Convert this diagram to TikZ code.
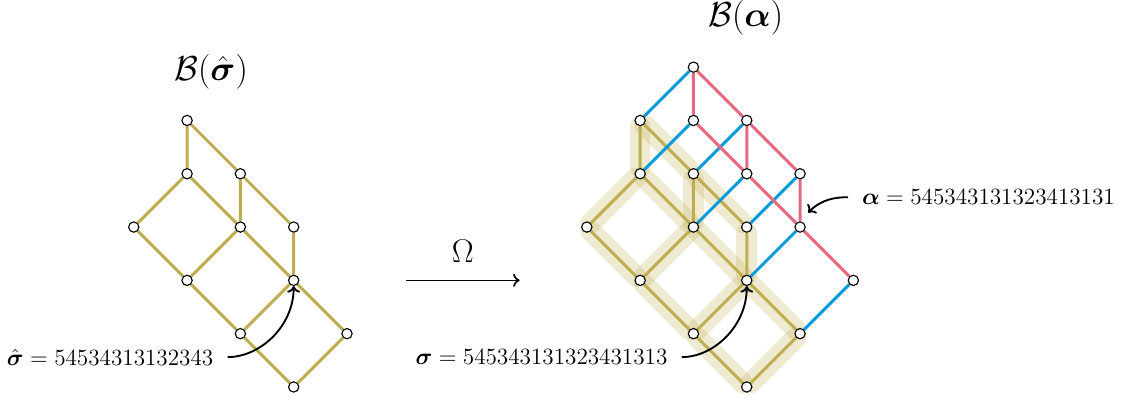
\RequirePackage{fix-cm}
\documentclass[tikz,border=0pt]{standalone}
\usepackage{amsmath}
\usepackage{tikz}
\usetikzlibrary{arrows.meta,positioning,calc,backgrounds}
\definecolor{BruhatOlive}{HTML}{BFAE50}
\definecolor{BruhatBlue}{HTML}{0A9BDB}
\definecolor{BruhatRed}{HTML}{E8687F}

\begin{document}
\begin{tikzpicture}[
  vtx/.style={circle,draw,fill=white,line width=0.6pt,inner sep=0pt,minimum size=5.5pt},
  oedge/.style={BruhatOlive,line width=1.6pt},
  bedge/.style={BruhatBlue,line width=1.6pt},
  redge/.style={BruhatRed,line width=1.6pt},
  band/.style={BruhatOlive,opacity=0.25,line width=11pt,line cap=round},
  arrow/.style={-{To[length=3.5pt,width=7pt]},line width=0.9pt},
  word/.style={font=\fontsize{12.4}{14}\selectfont},
  ttl/.style={font=\fontsize{18.5}{22}\selectfont,inner sep=1pt}
]
  \useasboundingbox (-11.01,-0.244) rectangle (10.04,7.26);

  % left lattice
  \node[vtx] (l15) at (-7.5,5) {};
  \node[vtx] (l14) at (-7.5,4) {};
  \node[vtx] (l24) at (-6.5,4) {};
  \node[vtx] (l03) at (-8.5,3) {};
  \node[vtx] (l23) at (-6.5,3) {};
  \node[vtx] (l33) at (-5.5,3) {};
  \node[vtx] (l12) at (-7.5,2) {};
  \node[vtx] (l32) at (-5.5,2) {};
  \node[vtx] (l21) at (-6.5,1) {};
  \node[vtx] (l41) at (-4.5,1) {};
  \node[vtx] (l30) at (-5.5,0) {};

  % right lattice
  \node[vtx] (r26) at (2,6) {};
  \node[vtx] (r15) at (1,5) {};
  \node[vtx] (r25) at (2,5) {};
  \node[vtx] (r35) at (3,5) {};
  \node[vtx] (r14) at (1,4) {};
  \node[vtx] (r24) at (2,4) {};
  \node[vtx] (r34) at (3,4) {};
  \node[vtx] (r44) at (4,4) {};
  \node[vtx] (r03) at (0,3) {};
  \node[vtx] (r23) at (2,3) {};
  \node[vtx] (r33) at (3,3) {};
  \node[vtx] (r43) at (4,3) {};
  \node[vtx] (r12) at (1,2) {};
  \node[vtx] (r32) at (3,2) {};
  \node[vtx] (r52) at (5,2) {};
  \node[vtx] (r21) at (2,1) {};
  \node[vtx] (r41) at (4,1) {};
  \node[vtx] (r30) at (3,0) {};

  \begin{scope}[on background layer]
    % highlighted copy of B(sigma)
    \draw[band] (r15) -- (r14);
    \draw[band] (r15) -- (r24);
    \draw[band] (r14) -- (r03);
    \draw[band] (r14) -- (r23);
    \draw[band] (r24) -- (r23);
    \draw[band] (r24) -- (r33);
    \draw[band] (r03) -- (r12);
    \draw[band] (r23) -- (r12);
    \draw[band] (r23) -- (r32);
    \draw[band] (r33) -- (r32);
    \draw[band] (r12) -- (r21);
    \draw[band] (r32) -- (r21);
    \draw[band] (r32) -- (r41);
    \draw[band] (r21) -- (r30);
    \draw[band] (r41) -- (r30);

    \draw[oedge] (l15) -- (l14) (l15) -- (l24) (l14) -- (l03) (l14) -- (l23)
      (l24) -- (l23) (l24) -- (l33) (l03) -- (l12) (l23) -- (l12) (l23) -- (l32)
      (l33) -- (l32) (l12) -- (l21) (l32) -- (l21) (l32) -- (l41)
      (l21) -- (l30) (l41) -- (l30);

    \draw[oedge] (r15) -- (r14) (r15) -- (r24) (r14) -- (r03) (r14) -- (r23)
      (r24) -- (r23) (r24) -- (r33) (r03) -- (r12) (r23) -- (r12) (r23) -- (r32)
      (r33) -- (r32) (r12) -- (r21) (r32) -- (r21) (r32) -- (r41)
      (r21) -- (r30) (r41) -- (r30);

    \draw[bedge] (r26) -- (r15) (r25) -- (r14) (r35) -- (r24) (r34) -- (r23)
      (r44) -- (r33) (r43) -- (r32) (r52) -- (r41);

    \draw[redge] (r26) -- (r25) (r26) -- (r35) (r25) -- (r34) (r35) -- (r34)
      (r35) -- (r44) (r34) -- (r43) (r44) -- (r43) (r43) -- (r52);
  \end{scope}

  % titles
  \node[ttl] (ltitle) at (-7.05,5.91) {$\mathcal{B}(\hat{\boldsymbol{\sigma}})$};
  \node[ttl] (rtitle) at (2.98,6.92) {$\mathcal{B}(\boldsymbol{\alpha})$};

  % the map
  \coordinate (mapl) at (-3.39,2);
  \coordinate (mapr) at (-1.26,2);
  \draw[arrow] (mapl) -- node[above=0.2cm,font=\fontsize{17.5}{20}\selectfont] (omega) {$\Omega$} (mapr);

  % words
  \node[word,anchor=east] (shatlab) at (-6.88,0.56) {$\hat{\boldsymbol{\sigma}} = 54534313132343$};
  \node[word,anchor=east] (siglab) at (1.64,0.56) {$\boldsymbol{\sigma} = 545343131323431313$};
  \node[word,anchor=west] (alphalab) at (5.04,3.56) {$\boldsymbol{\alpha} = 545343131323413131$};
  \coordinate (atip) at (4.15,3.27);

  \draw[arrow,line width=1pt,shorten <=4pt] (shatlab.east) to[out=0,in=-90] (l32);
  \draw[arrow,line width=1pt,shorten <=4pt] (siglab.east) to[out=0,in=-90] (r32);
  \draw[arrow,line width=1pt,shorten <=4pt] (alphalab.west) to[out=180,in=45] (atip);
\end{tikzpicture}
\end{document}
